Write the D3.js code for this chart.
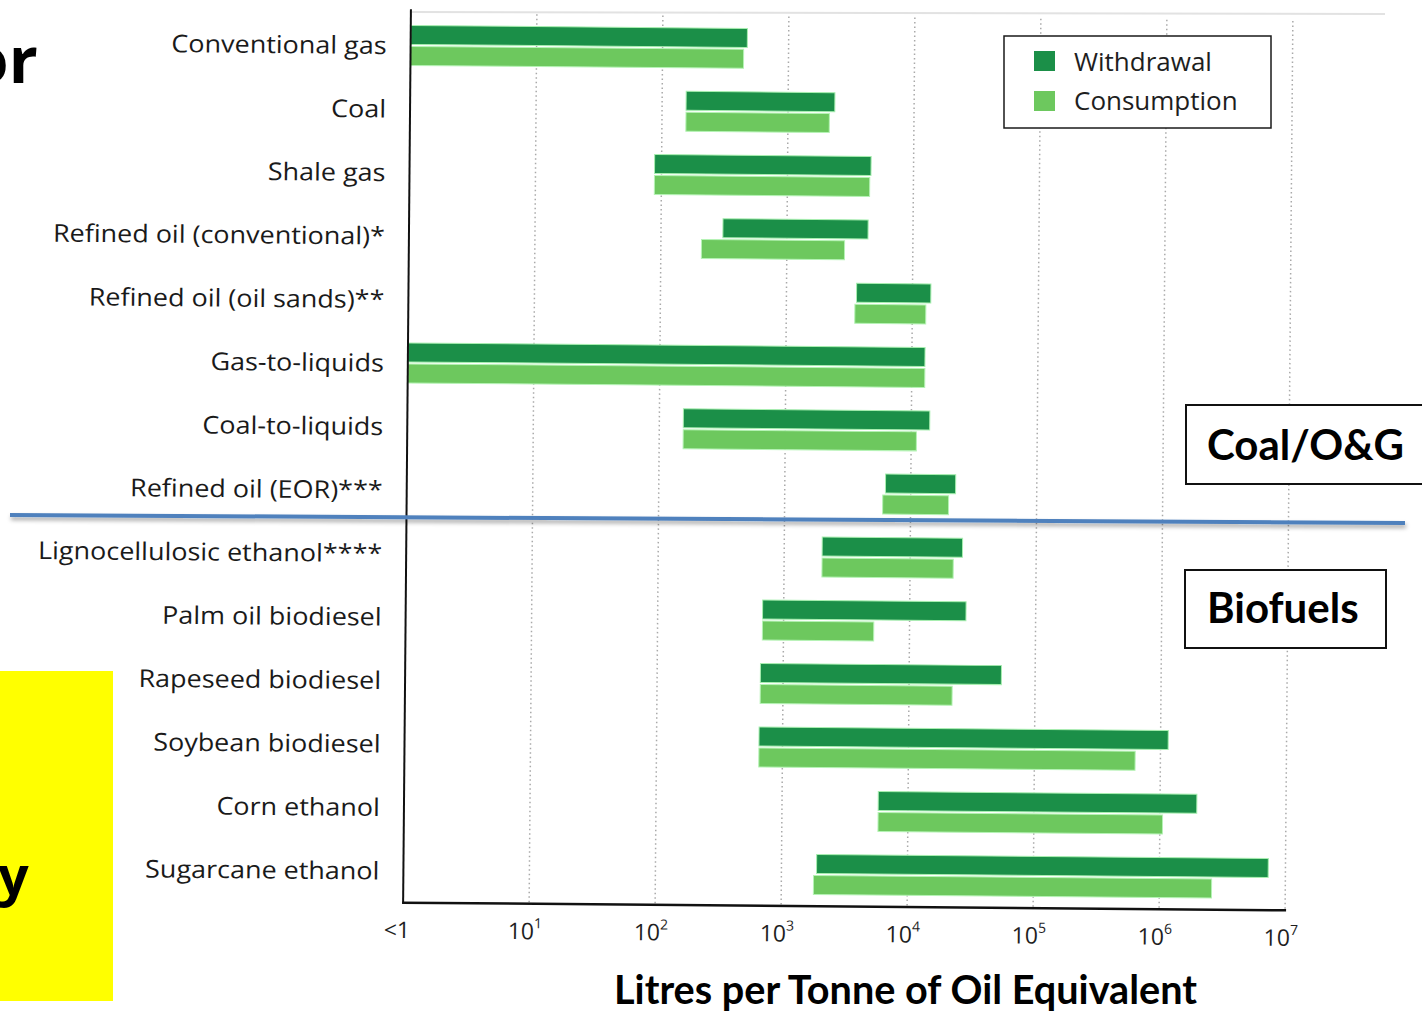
<!DOCTYPE html>
<html>
<head>
<meta charset="utf-8">
<script src="https://cdn.jsdelivr.net/npm/d3@7"></script>
<style>
  html, body { margin: 0; padding: 0; background: #ffffff; }
  svg { display: block; }
</style>
</head>
<body>
<svg id="chart" width="1422" height="1014"></svg>
<script>
// ---------- data ----------
const categories = [
  "Conventional gas", "Coal", "Shale gas", "Refined oil (conventional)*",
  "Refined oil (oil sands)**", "Gas-to-liquids", "Coal-to-liquids",
  "Refined oil (EOR)***", "Lignocellulosic ethanol****", "Palm oil biodiesel",
  "Rapeseed biodiesel", "Soybean biodiesel", "Corn ethanol", "Sugarcane ethanol"
];
// litres per tonne of oil equivalent (ranges; 1 means "<1")
const withdrawalLow  = [1, 155, 88, 310, 3600, 1, 155, 6300, 2000, 680, 660, 650, 5800, 1900];
const withdrawalHigh = [470, 2350, 4600, 4400, 14000, 12700, 14000, 22700, 26000, 28000, 54000, 1150000, 1960000, 7300000];
const consumptionLow  = [1, 155, 88, 210, 3500, 1, 155, 6000, 2000, 680, 660, 650, 5800, 1800];
const consumptionHigh = [440, 2130, 4500, 2870, 12800, 12700, 11000, 20000, 22000, 5200, 22000, 630000, 1050000, 2600000];
const tickValues = [1, 1e1, 1e2, 1e3, 1e4, 1e5, 1e6, 1e7];
const tickBase = ["<1", "10", "10", "10", "10", "10", "10", "10"];
const tickExp  = ["", "1", "2", "3", "4", "5", "6", "7"];
const seriesNames = ["Withdrawal", "Consumption"];
const seriesColors = ["#1b8f48", "#6dc85e"];
const axisTitle = "Litres per Tonne of Oil Equivalent";
const groupLabels = ["Coal/O&G", "Biofuels"];

// ---------- scales ----------
const x = d3.scaleLog().domain([1, 1e7]).range([407, 1289]);
const y = d3.scaleBand().domain(categories).range([17.5, 906.5])
  .paddingInner(0.37).paddingOuter(0.185);

const svg = d3.select("#chart");

// shadow filter for divider
const defs = svg.append("defs");
const f = defs.append("filter").attr("id", "shadow").attr("x", "-5%").attr("y", "-200%")
  .attr("width", "110%").attr("height", "500%");
f.append("feDropShadow").attr("dx", 1).attr("dy", 3).attr("stdDeviation", 2)
  .attr("flood-color", "#000").attr("flood-opacity", 0.35);

// faint top edge of scanned figure
svg.append("line").attr("x1", 411).attr("y1", 12).attr("x2", 1385).attr("y2", 14)
  .attr("stroke", "#e2e2e2").attr("stroke-width", 2);

// ---------- scanned chart group (slightly rotated like the scan) ----------
const g = svg.append("g").attr("transform", "rotate(0.5 845 460)");

// dotted gridlines
g.append("g").selectAll("line")
  .data(tickValues.slice(1))
  .join("line")
  .attr("x1", d => x(d)).attr("x2", d => x(d))
  .attr("y1", 17).attr("y2", 906.5)
  .attr("stroke", "#a9a9a9").attr("stroke-width", 1.5)
  .attr("stroke-dasharray", "1.5,3");

const bw = y.bandwidth();
const half = bw / 2;

// withdrawal bars
g.append("g").selectAll("rect")
  .data(categories)
  .join("rect")
  .attr("x", (d, i) => x(withdrawalLow[i]))
  .attr("width", (d, i) => x(withdrawalHigh[i]) - x(withdrawalLow[i]))
  .attr("y", d => y(d))
  .attr("height", half - 1)
  .attr("fill", seriesColors[0])
  .attr("stroke", "#a8efb0").attr("stroke-width", 1);

// consumption bars
g.append("g").selectAll("rect")
  .data(categories)
  .join("rect")
  .attr("x", (d, i) => x(consumptionLow[i]))
  .attr("width", (d, i) => x(consumptionHigh[i]) - x(consumptionLow[i]))
  .attr("y", d => y(d) + half + 1)
  .attr("height", half - 1)
  .attr("fill", seriesColors[1])
  .attr("stroke", "#b5f3b5").attr("stroke-width", 1);

// axes lines
g.append("line").attr("x1", 407).attr("x2", 407).attr("y1", 13).attr("y2", 907.5)
  .attr("stroke", "#111").attr("stroke-width", 2);
g.append("line").attr("x1", 406).attr("x2", 1290).attr("y1", 906.5).attr("y2", 906.5)
  .attr("stroke", "#111").attr("stroke-width", 2.5);

// category labels (the scan is slightly stretched horizontally)
g.append("g").selectAll("text")
  .data(categories)
  .join("text")
  .attr("transform", d => `translate(383,${y(d) + half}) scale(1.1,1)`)
  .attr("dy", "0.36em")
  .attr("text-anchor", "end")
  .attr("font-family", "'Open Sans', sans-serif")
  .attr("font-size", 24.5)
  .attr("fill", "#1a1a1a")
  .text(d => d);

// tick labels
const tl = g.append("g").selectAll("text")
  .data(tickValues)
  .join("text")
  .attr("x", (d, i) => i === 0 ? x(d) - 6 : x(d) - 4)
  .attr("y", 942)
  .attr("text-anchor", "middle")
  .attr("font-family", "'Open Sans', sans-serif")
  .attr("font-size", 23)
  .attr("fill", "#1e1e1e");
tl.append("tspan").text((d, i) => tickBase[i]);
tl.append("tspan").attr("dy", -11).attr("font-size", 14).text((d, i) => tickExp[i]);

// ---------- legend ----------
const lg = svg.append("g");
lg.append("rect").attr("x", 1004).attr("y", 36).attr("width", 267).attr("height", 92)
  .attr("fill", "#fff").attr("stroke", "#1a1a1a").attr("stroke-width", 1.5);
lg.selectAll("rect.sw").data(seriesNames).join("rect").attr("class", "sw")
  .attr("x", 1034).attr("y", (d, i) => 51 + i * 40)
  .attr("width", 21).attr("height", 20)
  .attr("fill", (d, i) => seriesColors[i]);
lg.selectAll("text").data(seriesNames).join("text")
  .attr("x", 1074).attr("y", (d, i) => 71 + i * 39)
  .attr("font-family", "'Open Sans', sans-serif")
  .attr("font-size", 26).attr("fill", "#1e1e1e")
  .text(d => d);

// ---------- slide overlays ----------
// divider line
svg.append("line").attr("x1", 10).attr("y1", 515).attr("x2", 1405).attr("y2", 523)
  .attr("stroke", "#4f81bd").attr("stroke-width", 4).attr("filter", "url(#shadow)");

// group label boxes
svg.append("rect").attr("x", 1186).attr("y", 405).attr("width", 240).attr("height", 79)
  .attr("fill", "#fff").attr("stroke", "#111").attr("stroke-width", 2);
svg.append("text").attr("x", 1207).attr("y", 460)
  .attr("font-family", "Lato, sans-serif").attr("font-weight", "bold")
  .attr("font-size", 42).attr("fill", "#000").text(groupLabels[0]);
svg.append("rect").attr("x", 1185).attr("y", 570).attr("width", 201).attr("height", 78)
  .attr("fill", "#fff").attr("stroke", "#111").attr("stroke-width", 2);
svg.append("text").attr("x", 1207).attr("y", 623)
  .attr("font-family", "Lato, sans-serif").attr("font-weight", "bold")
  .attr("font-size", 42).attr("fill", "#000").text(groupLabels[1]);

// axis title
svg.append("text").attr("x", 614).attr("y", 1004)
  .attr("font-family", "Lato, sans-serif").attr("font-weight", "bold")
  .attr("font-size", 40).attr("fill", "#000")
  .attr("textLength", 583).attr("lengthAdjust", "spacingAndGlyphs")
  .text(axisTitle);

// partial slide text at left edge (cut off in the reference too)
svg.append("text").attr("x", -31).attr("y", 83)
  .attr("font-family", "'Open Sans', sans-serif").attr("font-weight", "bold")
  .attr("font-size", 64).attr("fill", "#000").text("or");
svg.append("rect").attr("x", 0).attr("y", 671).attr("width", 113).attr("height", 330)
  .attr("fill", "#ffff00");
svg.append("text").attr("x", -2).attr("y", 895)
  .attr("font-family", "'Open Sans', sans-serif").attr("font-weight", "bold")
  .attr("font-size", 54).attr("fill", "#000").text("y");
</script>
</body>
</html>
